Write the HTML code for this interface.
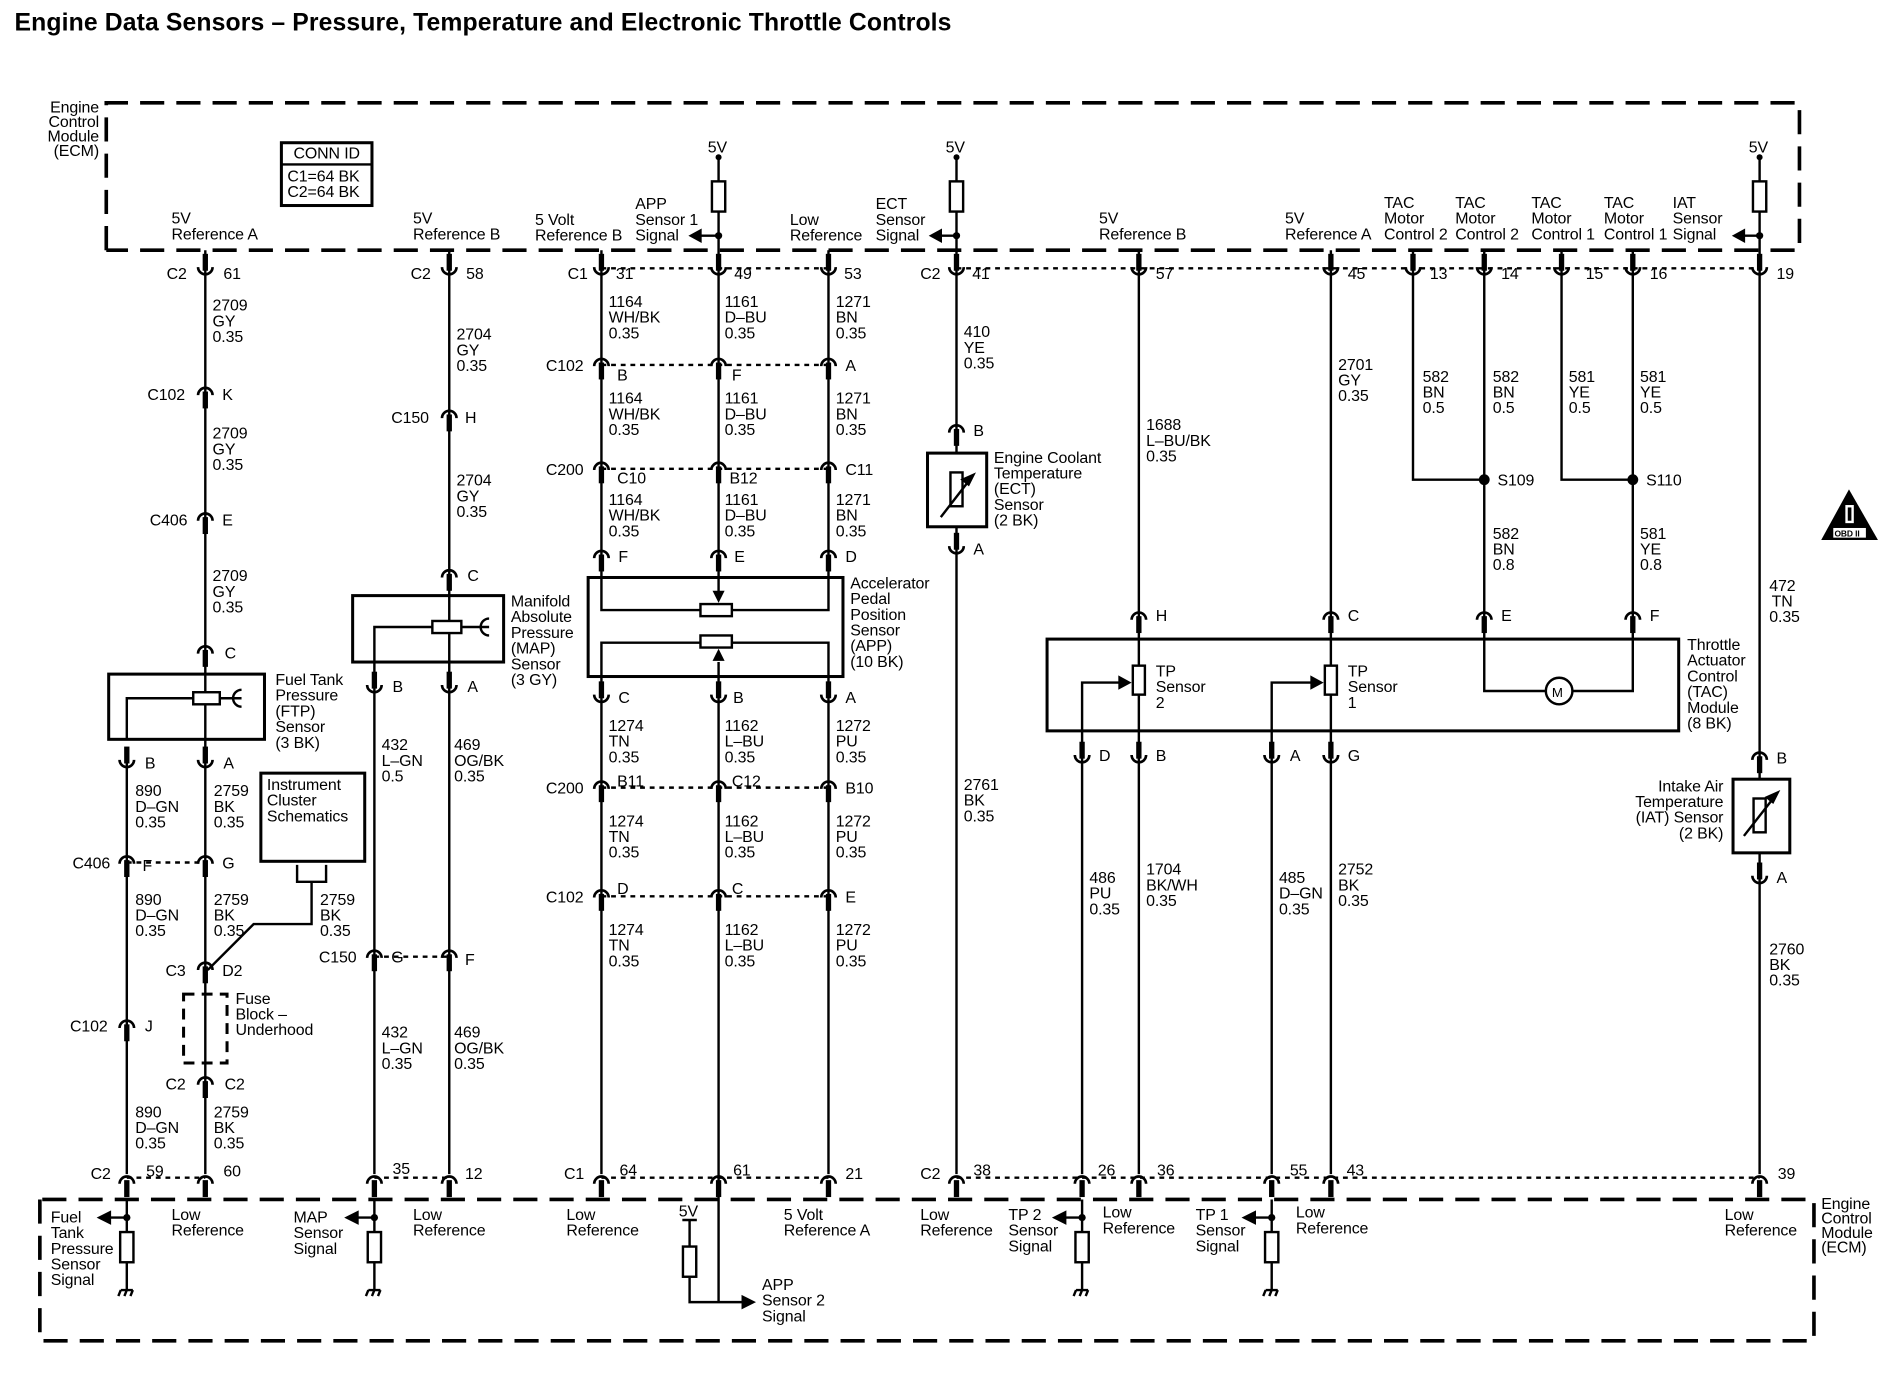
<!DOCTYPE html>
<html><head><meta charset="utf-8"><style>
html,body{margin:0;padding:0;background:#fff}
svg{display:block}
text{font-family:"Liberation Sans",sans-serif;font-size:13.2px;fill:#000;letter-spacing:-0.1px}
</style></head><body>
<svg width="1884" height="1376" viewBox="0 0 1560 1139" xmlns="http://www.w3.org/2000/svg">
<defs>
<g id="cu"><path d="M-6,-5 A6,6 0 0 0 6,-5" fill="none" stroke="#000" stroke-width="2.2"/><rect x="-2.2" y="-16" width="4.4" height="14"/></g>
<g id="ar"><path d="M-6,5 A6,6 0 0 1 6,5" fill="none" stroke="#000" stroke-width="2.2"/><rect x="-2.2" y="2" width="4.4" height="14"/></g>
<g id="res"><rect x="-5.5" y="0" width="11" height="25" fill="#fff" stroke="#000" stroke-width="2"/></g>
<g id="gnd"><path d="M-5,0 L5,0 M-5,0 l-2,5 M0,0 l-2,5 M5,0 l-2,5" stroke="#000" stroke-width="2" fill="none"/></g>
</defs>
<text x="12" y="25" style="font-size:20.5px;font-weight:bold;letter-spacing:0.1px">Engine Data Sensors – Pressure, Temperature and Electronic Throttle Controls</text>

<g fill="none" stroke="#000" stroke-width="3" stroke-dasharray="20 10">
<path d="M88,207 L88,85 L1490,85 L1490,207 L88,207"/>
<path d="M33,993 L33,1110 L1502,1110 L1502,993 L33,993"/>
</g>
<text text-anchor="end"><tspan x="82" y="93">Engine</tspan><tspan x="82" y="105">Control</tspan><tspan x="82" y="117">Module</tspan><tspan x="82" y="129">(ECM)</tspan></text>
<text><tspan x="1508" y="1001">Engine</tspan><tspan x="1508" y="1013">Control</tspan><tspan x="1508" y="1025">Module</tspan><tspan x="1508" y="1037">(ECM)</tspan></text>
<rect x="233" y="118" width="75" height="52" fill="none" stroke="#000" stroke-width="2.5"/>
<line x1="233" y1="136" x2="308" y2="136" stroke="#000" stroke-width="2"/>
<text x="243" y="131">CONN ID</text><text x="238" y="150">C1=64 BK</text><text x="238" y="163">C2=64 BK</text>

<g stroke="#000" stroke-width="2" fill="none">
<path d="M170,207V972 M105,630V972 M310,568V972 M372,207V972"/>
<path d="M498,207V478 M498,560V972 M686,207V478 M686,560V972 M595,130V478 M595,560V1078"/>
<path d="M792,130V375 M792,436V972 M943,207V551 M943,575V972 M1102,207V551 M1102,575V972"/>
<path d="M896,620V972 M896,620V565H930 M1053,620V972 M1053,620V565H1088"/>
<path d="M1170,207V397H1229 M1229,207V572H1352V207 M1293,207V397H1352"/>
<path d="M1457,130V645 M1457,706V972"/>
<path d="M258,730V765L210,765L172,803"/>
<path d="M246,716V730H270V716"/>
<path d="M580,195H595 M779,195H792 M1444,195H1457"/>
<path d="M91,1008H105 M296,1008H310 M882,1008H896 M1039,1008H1053"/>
<path d="M105,993V1020 M105,1045V1068 M310,993V1020 M310,1045V1068 M896,993V1020 M896,1045V1068 M1053,993V1020 M1053,1045V1068"/>
<path d="M571,1010V1032 M571,1058V1078H615 M565,1010H577"/>
</g>
<g stroke="#000" stroke-width="2" stroke-dasharray="4 4">
<path d="M498,222H686 M792,222H1457 M498,302H686 M498,388H686 M498,652H686 M498,742H686 M105,714H170 M310,792H372"/>
<path d="M105,975H170 M310,975H372 M498,975H686 M792,975H1457"/>
</g>
<g fill="#000">
<path d="M570,195l11,-6v12z M769,195l11,-6v12z M1434,195l11,-6v12z"/>
<path d="M80,1008l12,-6v12z M285,1008l12,-6v12z M871,1008l12,-6v12z M1028,1008l12,-6v12z"/>
<path d="M626,1078l-12,-6v12z"/>
<path d="M937,565l-11,-6v12z M1096,565l-11,-6v12z"/>
<circle cx="595" cy="195" r="3"/><circle cx="792" cy="195" r="3"/><circle cx="1457" cy="195" r="3"/>
<circle cx="105" cy="1008" r="3"/><circle cx="310" cy="1008" r="3"/><circle cx="896" cy="1008" r="3"/><circle cx="1053" cy="1008" r="3"/>
<circle cx="1229" cy="397" r="4.5"/><circle cx="1352" cy="397" r="4.5"/>
<circle cx="595" cy="130" r="2.5"/><circle cx="792" cy="130" r="2.5"/><circle cx="1457" cy="130" r="2.5"/>
</g>
<use href="#res" transform="translate(595,150)"/><use href="#res" transform="translate(792,150)"/><use href="#res" transform="translate(1457,150)"/>
<use href="#res" transform="translate(105,1020)"/><use href="#res" transform="translate(310,1020)"/><use href="#res" transform="translate(896,1020)"/><use href="#res" transform="translate(1053,1020)"/><use href="#res" transform="translate(571,1032)"/>
<use href="#gnd" transform="translate(105,1068)"/><use href="#gnd" transform="translate(310,1068)"/><use href="#gnd" transform="translate(896,1068)"/><use href="#gnd" transform="translate(1053,1068)"/>
<text x="586" y="126">5V</text><text x="783" y="126">5V</text><text x="1448" y="126">5V</text><text x="562" y="1007">5V</text>

<g>
<use href="#cu" transform="translate(170,226)"/><use href="#cu" transform="translate(372,226)"/>
<use href="#cu" transform="translate(498,226)"/><use href="#cu" transform="translate(595,226)"/><use href="#cu" transform="translate(686,226)"/>
<use href="#cu" transform="translate(792,226)"/><use href="#cu" transform="translate(943,226)"/><use href="#cu" transform="translate(1102,226)"/>
<use href="#cu" transform="translate(1170,226)"/><use href="#cu" transform="translate(1229,226)"/><use href="#cu" transform="translate(1293,226)"/><use href="#cu" transform="translate(1352,226)"/><use href="#cu" transform="translate(1457,226)"/>
</g>
<g>
<use href="#ar" transform="translate(105,975)"/><use href="#ar" transform="translate(170,975)"/><use href="#ar" transform="translate(310,975)"/><use href="#ar" transform="translate(372,975)"/>
<use href="#ar" transform="translate(498,975)"/><use href="#ar" transform="translate(595,975)"/><use href="#ar" transform="translate(686,975)"/>
<use href="#ar" transform="translate(792,975)"/><use href="#ar" transform="translate(896,975)"/><use href="#ar" transform="translate(943,975)"/><use href="#ar" transform="translate(1053,975)"/><use href="#ar" transform="translate(1102,975)"/><use href="#ar" transform="translate(1457,975)"/>
</g>
<g>
<use href="#ar" transform="translate(170,322)"/><use href="#ar" transform="translate(170,426)"/><use href="#ar" transform="translate(170,536)"/>
<use href="#ar" transform="translate(372,341)"/><use href="#ar" transform="translate(372,473)"/>
<use href="#ar" transform="translate(498,298)"/><use href="#ar" transform="translate(595,298)"/><use href="#ar" transform="translate(686,298)"/>
<use href="#ar" transform="translate(498,384)"/><use href="#ar" transform="translate(595,384)"/><use href="#ar" transform="translate(686,384)"/>
<use href="#ar" transform="translate(498,457)"/><use href="#ar" transform="translate(595,457)"/><use href="#ar" transform="translate(686,457)"/>
<use href="#ar" transform="translate(498,648)"/><use href="#ar" transform="translate(595,648)"/><use href="#ar" transform="translate(686,648)"/>
<use href="#ar" transform="translate(498,738)"/><use href="#ar" transform="translate(595,738)"/><use href="#ar" transform="translate(686,738)"/>
<use href="#ar" transform="translate(792,353)"/><use href="#ar" transform="translate(943,508)"/><use href="#ar" transform="translate(1102,508)"/>
<use href="#ar" transform="translate(1229,508)"/><use href="#ar" transform="translate(1352,508)"/><use href="#ar" transform="translate(1457,624)"/>
<use href="#ar" transform="translate(105,710)"/><use href="#ar" transform="translate(170,710)"/>
<use href="#ar" transform="translate(170,798)"/><use href="#ar" transform="translate(105,846)"/><use href="#ar" transform="translate(170,893)"/>
<use href="#ar" transform="translate(310,788)"/><use href="#ar" transform="translate(372,788)"/>
<use href="#cu" transform="translate(105,634)"/><use href="#cu" transform="translate(170,634)"/>
<use href="#cu" transform="translate(310,572)"/><use href="#cu" transform="translate(372,572)"/>
<use href="#cu" transform="translate(498,580)"/><use href="#cu" transform="translate(595,580)"/><use href="#cu" transform="translate(686,580)"/>
<use href="#cu" transform="translate(792,457)"/><use href="#cu" transform="translate(1457,730)"/>
<use href="#cu" transform="translate(896,630)"/><use href="#cu" transform="translate(943,630)"/><use href="#cu" transform="translate(1053,630)"/><use href="#cu" transform="translate(1102,630)"/>
</g>

<g fill="none" stroke="#000" stroke-width="2.5">
<rect x="90" y="558" width="129" height="54"/>
<rect x="292" y="493" width="125" height="55"/>
<rect x="487" y="478" width="211" height="82"/>
<rect x="768" y="375" width="49" height="61"/>
<rect x="867" y="529" width="523" height="76"/>
<rect x="1435" y="645" width="47" height="61"/>
<rect x="216" y="640" width="86" height="73"/>
<rect x="152" y="823" width="36" height="57" stroke-dasharray="9 6"/>
</g>
<g fill="none" stroke="#000" stroke-width="2">
<path d="M105,612V578H160 M310,568V519H358"/>
<path d="M200,571 a7,7 0 0 0 0,14 M405,512 a7,7 0 0 0 0,14"/>
<path d="M498,478V505H580 M606,505H686V478 M498,560V532H580 M606,532H686V560"/>
</g>
<g fill="#fff" stroke="#000" stroke-width="2">
<rect x="160" y="573" width="22" height="10"/>
<rect x="358" y="514" width="24" height="10"/>
<rect x="580" y="500" width="26" height="10"/>
<rect x="580" y="526" width="26" height="10"/>
<rect x="787" y="391" width="10" height="28"/>
<rect x="1452" y="661" width="10" height="28"/>
<rect x="938" y="551" width="10" height="24"/>
<rect x="1097" y="551" width="10" height="24"/>
<circle cx="1291" cy="572" r="11"/>
</g>
<path d="M182,578H200 M382,519H405" stroke="#000" stroke-width="2"/>
<g fill="#000"><path d="M595,499l-5,-10h10z M595,537l-5,10h10z"/></g>
<path d="M595,478V490 M595,560V548" stroke="#000" stroke-width="2"/>
<g stroke="#000" stroke-width="2" fill="#000">
<path d="M779,428L803,397" /><path d="M806,393l-9,4 5,4z"/>
<path d="M1444,692L1469,660"/><path d="M1472,656l-9,4 5,4z"/>
</g>
<text x="1285" y="577" style="font-size:11px">M</text>
<path d="M1531,405L1508,447H1555Z" fill="#000"/>
<rect x="1518" y="437" width="27" height="8" fill="#fff"/>
<text x="1519" y="444" style="font-size:7px;font-weight:bold">OBD II</text>
<rect x="1528" y="418" width="7" height="15" fill="#fff"/><rect x="1530" y="420" width="3" height="11" fill="#000"/>

<g>
<text><tspan x="142" y="185">5V</tspan><tspan x="142" y="198">Reference A</tspan></text>
<text><tspan x="342" y="185">5V</tspan><tspan x="342" y="198">Reference B</tspan></text>
<text><tspan x="443" y="186">5 Volt</tspan><tspan x="443" y="199">Reference B</tspan></text>
<text><tspan x="526" y="173">APP</tspan><tspan x="526" y="186">Sensor 1</tspan><tspan x="526" y="199">Signal</tspan></text>
<text><tspan x="654" y="186">Low</tspan><tspan x="654" y="199">Reference</tspan></text>
<text><tspan x="725" y="173">ECT</tspan><tspan x="725" y="186">Sensor</tspan><tspan x="725" y="199">Signal</tspan></text>
<text><tspan x="910" y="185">5V</tspan><tspan x="910" y="198">Reference B</tspan></text>
<text><tspan x="1064" y="185">5V</tspan><tspan x="1064" y="198">Reference A</tspan></text>
<text><tspan x="1146" y="172">TAC</tspan><tspan x="1146" y="185">Motor</tspan><tspan x="1146" y="198">Control 2</tspan></text>
<text><tspan x="1205" y="172">TAC</tspan><tspan x="1205" y="185">Motor</tspan><tspan x="1205" y="198">Control 2</tspan></text>
<text><tspan x="1268" y="172">TAC</tspan><tspan x="1268" y="185">Motor</tspan><tspan x="1268" y="198">Control 1</tspan></text>
<text><tspan x="1328" y="172">TAC</tspan><tspan x="1328" y="185">Motor</tspan><tspan x="1328" y="198">Control 1</tspan></text>
<text><tspan x="1385" y="172">IAT</tspan><tspan x="1385" y="185">Sensor</tspan><tspan x="1385" y="198">Signal</tspan></text>

<text x="138" y="231">C2</text><text x="185" y="231">61</text>
<text x="340" y="231">C2</text><text x="386" y="231">58</text>
<text x="470" y="231">C1</text><text x="510" y="231">31</text><text x="608" y="231">49</text><text x="699" y="231">53</text>
<text x="762" y="231">C2</text><text x="805" y="231">41</text><text x="957" y="231">57</text><text x="1116" y="231">45</text>
<text x="1184" y="231">13</text><text x="1243" y="231">14</text><text x="1313" y="231">15</text><text x="1366" y="231">16</text><text x="1471" y="231">19</text>

<text x="75" y="976">C2</text><text x="121" y="974">59</text><text x="185" y="974">60</text><text x="325" y="972">35</text><text x="385" y="976">12</text>
<text x="467" y="976">C1</text><text x="513" y="973">64</text><text x="607" y="973">61</text><text x="700" y="976">21</text>
<text x="762" y="976">C2</text><text x="806" y="973">38</text><text x="909" y="973">26</text><text x="958" y="973">36</text><text x="1068" y="973">55</text><text x="1115" y="973">43</text><text x="1472" y="976">39</text>

<text><tspan x="176" y="257">2709</tspan><tspan x="176" y="270">GY</tspan><tspan x="176" y="283">0.35</tspan></text>
<text x="122" y="331">C102</text><text x="184" y="331">K</text>
<text><tspan x="176" y="363">2709</tspan><tspan x="176" y="376">GY</tspan><tspan x="176" y="389">0.35</tspan></text>
<text x="124" y="435">C406</text><text x="184" y="435">E</text>
<text><tspan x="176" y="481">2709</tspan><tspan x="176" y="494">GY</tspan><tspan x="176" y="507">0.35</tspan></text>
<text x="186" y="545">C</text>
<text><tspan x="228" y="567">Fuel Tank</tspan><tspan x="228" y="580">Pressure</tspan><tspan x="228" y="593">(FTP)</tspan><tspan x="228" y="606">Sensor</tspan><tspan x="228" y="619">(3 BK)</tspan></text>
<text x="120" y="636">B</text><text x="185" y="636">A</text>
<text><tspan x="112" y="659">890</tspan><tspan x="112" y="672">D–GN</tspan><tspan x="112" y="685">0.35</tspan></text>
<text><tspan x="177" y="659">2759</tspan><tspan x="177" y="672">BK</tspan><tspan x="177" y="685">0.35</tspan></text>
<text><tspan x="221" y="654">Instrument</tspan><tspan x="221" y="667">Cluster</tspan><tspan x="221" y="680">Schematics</tspan></text>
<text x="60" y="719">C406</text><text x="118" y="721">F</text><text x="184" y="719">G</text>
<text><tspan x="112" y="749">890</tspan><tspan x="112" y="762">D–GN</tspan><tspan x="112" y="775">0.35</tspan></text>
<text><tspan x="177" y="749">2759</tspan><tspan x="177" y="762">BK</tspan><tspan x="177" y="775">0.35</tspan></text>
<text><tspan x="265" y="749">2759</tspan><tspan x="265" y="762">BK</tspan><tspan x="265" y="775">0.35</tspan></text>
<text x="137" y="808">C3</text><text x="184" y="808">D2</text>
<text><tspan x="195" y="831">Fuse</tspan><tspan x="195" y="844">Block –</tspan><tspan x="195" y="857">Underhood</tspan></text>
<text x="58" y="854">C102</text><text x="120" y="854">J</text>
<text x="137" y="902">C2</text><text x="186" y="902">C2</text>
<text><tspan x="112" y="925">890</tspan><tspan x="112" y="938">D–GN</tspan><tspan x="112" y="951">0.35</tspan></text>
<text><tspan x="177" y="925">2759</tspan><tspan x="177" y="938">BK</tspan><tspan x="177" y="951">0.35</tspan></text>

<text><tspan x="378" y="281">2704</tspan><tspan x="378" y="294">GY</tspan><tspan x="378" y="307">0.35</tspan></text>
<text x="324" y="350">C150</text><text x="385" y="350">H</text>
<text><tspan x="378" y="402">2704</tspan><tspan x="378" y="415">GY</tspan><tspan x="378" y="428">0.35</tspan></text>
<text x="387" y="481">C</text>
<text><tspan x="423" y="502">Manifold</tspan><tspan x="423" y="515">Absolute</tspan><tspan x="423" y="528">Pressure</tspan><tspan x="423" y="541">(MAP)</tspan><tspan x="423" y="554">Sensor</tspan><tspan x="423" y="567">(3 GY)</tspan></text>
<text x="325" y="573">B</text><text x="387" y="573">A</text>
<text><tspan x="316" y="621">432</tspan><tspan x="316" y="634">L–GN</tspan><tspan x="316" y="647">0.5</tspan></text>
<text><tspan x="376" y="621">469</tspan><tspan x="376" y="634">OG/BK</tspan><tspan x="376" y="647">0.35</tspan></text>
<text x="264" y="797">C150</text><text x="324" y="797">G</text><text x="385" y="799">F</text>
<text><tspan x="316" y="859">432</tspan><tspan x="316" y="872">L–GN</tspan><tspan x="316" y="885">0.35</tspan></text>
<text><tspan x="376" y="859">469</tspan><tspan x="376" y="872">OG/BK</tspan><tspan x="376" y="885">0.35</tspan></text>

<text><tspan x="504" y="254">1164</tspan><tspan x="504" y="267">WH/BK</tspan><tspan x="504" y="280">0.35</tspan></text>
<text><tspan x="600" y="254">1161</tspan><tspan x="600" y="267">D–BU</tspan><tspan x="600" y="280">0.35</tspan></text>
<text><tspan x="692" y="254">1271</tspan><tspan x="692" y="267">BN</tspan><tspan x="692" y="280">0.35</tspan></text>
<text x="452" y="307">C102</text><text x="511" y="315">B</text><text x="606" y="315">F</text><text x="700" y="307">A</text>
<text><tspan x="504" y="334">1164</tspan><tspan x="504" y="347">WH/BK</tspan><tspan x="504" y="360">0.35</tspan></text>
<text><tspan x="600" y="334">1161</tspan><tspan x="600" y="347">D–BU</tspan><tspan x="600" y="360">0.35</tspan></text>
<text><tspan x="692" y="334">1271</tspan><tspan x="692" y="347">BN</tspan><tspan x="692" y="360">0.35</tspan></text>
<text x="452" y="393">C200</text><text x="511" y="400">C10</text><text x="604" y="400">B12</text><text x="700" y="393">C11</text>
<text><tspan x="504" y="418">1164</tspan><tspan x="504" y="431">WH/BK</tspan><tspan x="504" y="444">0.35</tspan></text>
<text><tspan x="600" y="418">1161</tspan><tspan x="600" y="431">D–BU</tspan><tspan x="600" y="444">0.35</tspan></text>
<text><tspan x="692" y="418">1271</tspan><tspan x="692" y="431">BN</tspan><tspan x="692" y="444">0.35</tspan></text>
<text x="512" y="465">F</text><text x="608" y="465">E</text><text x="700" y="465">D</text>
<text><tspan x="704" y="487">Accelerator</tspan><tspan x="704" y="500">Pedal</tspan><tspan x="704" y="513">Position</tspan><tspan x="704" y="526">Sensor</tspan><tspan x="704" y="539">(APP)</tspan><tspan x="704" y="552">(10 BK)</tspan></text>
<text x="512" y="582">C</text><text x="607" y="582">B</text><text x="700" y="582">A</text>
<text><tspan x="504" y="605">1274</tspan><tspan x="504" y="618">TN</tspan><tspan x="504" y="631">0.35</tspan></text>
<text><tspan x="600" y="605">1162</tspan><tspan x="600" y="618">L–BU</tspan><tspan x="600" y="631">0.35</tspan></text>
<text><tspan x="692" y="605">1272</tspan><tspan x="692" y="618">PU</tspan><tspan x="692" y="631">0.35</tspan></text>
<text x="452" y="657">C200</text><text x="511" y="651">B11</text><text x="606" y="651">C12</text><text x="700" y="657">B10</text>
<text><tspan x="504" y="684">1274</tspan><tspan x="504" y="697">TN</tspan><tspan x="504" y="710">0.35</tspan></text>
<text><tspan x="600" y="684">1162</tspan><tspan x="600" y="697">L–BU</tspan><tspan x="600" y="710">0.35</tspan></text>
<text><tspan x="692" y="684">1272</tspan><tspan x="692" y="697">PU</tspan><tspan x="692" y="710">0.35</tspan></text>
<text x="452" y="747">C102</text><text x="511" y="740">D</text><text x="606" y="740">C</text><text x="700" y="747">E</text>
<text><tspan x="504" y="774">1274</tspan><tspan x="504" y="787">TN</tspan><tspan x="504" y="800">0.35</tspan></text>
<text><tspan x="600" y="774">1162</tspan><tspan x="600" y="787">L–BU</tspan><tspan x="600" y="800">0.35</tspan></text>
<text><tspan x="692" y="774">1272</tspan><tspan x="692" y="787">PU</tspan><tspan x="692" y="800">0.35</tspan></text>

<text><tspan x="798" y="279">410</tspan><tspan x="798" y="292">YE</tspan><tspan x="798" y="305">0.35</tspan></text>
<text x="806" y="361">B</text>
<text><tspan x="823" y="383">Engine Coolant</tspan><tspan x="823" y="396">Temperature</tspan><tspan x="823" y="409">(ECT)</tspan><tspan x="823" y="422">Sensor</tspan><tspan x="823" y="435">(2 BK)</tspan></text>
<text x="806" y="459">A</text>
<text><tspan x="798" y="654">2761</tspan><tspan x="798" y="667">BK</tspan><tspan x="798" y="680">0.35</tspan></text>

<text><tspan x="949" y="356">1688</tspan><tspan x="949" y="369">L–BU/BK</tspan><tspan x="949" y="382">0.35</tspan></text>
<text><tspan x="1108" y="306">2701</tspan><tspan x="1108" y="319">GY</tspan><tspan x="1108" y="332">0.35</tspan></text>
<text x="957" y="514">H</text><text x="1116" y="514">C</text><text x="1243" y="514">E</text><text x="1366" y="514">F</text>
<text><tspan x="957" y="560">TP</tspan><tspan x="957" y="573">Sensor</tspan><tspan x="957" y="586">2</tspan></text>
<text><tspan x="1116" y="560">TP</tspan><tspan x="1116" y="573">Sensor</tspan><tspan x="1116" y="586">1</tspan></text>
<text><tspan x="1397" y="538">Throttle</tspan><tspan x="1397" y="551">Actuator</tspan><tspan x="1397" y="564">Control</tspan><tspan x="1397" y="577">(TAC)</tspan><tspan x="1397" y="590">Module</tspan><tspan x="1397" y="603">(8 BK)</tspan></text>
<text x="910" y="630">D</text><text x="957" y="630">B</text><text x="1068" y="630">A</text><text x="1116" y="630">G</text>
<text><tspan x="902" y="731">486</tspan><tspan x="902" y="744">PU</tspan><tspan x="902" y="757">0.35</tspan></text>
<text><tspan x="949" y="724">1704</tspan><tspan x="949" y="737">BK/WH</tspan><tspan x="949" y="750">0.35</tspan></text>
<text><tspan x="1059" y="731">485</tspan><tspan x="1059" y="744">D–GN</tspan><tspan x="1059" y="757">0.35</tspan></text>
<text><tspan x="1108" y="724">2752</tspan><tspan x="1108" y="737">BK</tspan><tspan x="1108" y="750">0.35</tspan></text>

<text><tspan x="1178" y="316">582</tspan><tspan x="1178" y="329">BN</tspan><tspan x="1178" y="342">0.5</tspan></text>
<text><tspan x="1236" y="316">582</tspan><tspan x="1236" y="329">BN</tspan><tspan x="1236" y="342">0.5</tspan></text>
<text><tspan x="1299" y="316">581</tspan><tspan x="1299" y="329">YE</tspan><tspan x="1299" y="342">0.5</tspan></text>
<text><tspan x="1358" y="316">581</tspan><tspan x="1358" y="329">YE</tspan><tspan x="1358" y="342">0.5</tspan></text>
<text x="1240" y="402">S109</text><text x="1363" y="402">S110</text>
<text><tspan x="1236" y="446">582</tspan><tspan x="1236" y="459">BN</tspan><tspan x="1236" y="472">0.8</tspan></text>
<text><tspan x="1358" y="446">581</tspan><tspan x="1358" y="459">YE</tspan><tspan x="1358" y="472">0.8</tspan></text>

<text><tspan x="1465" y="489">472</tspan><tspan x="1467" y="502">TN</tspan><tspan x="1465" y="515">0.35</tspan></text>
<text x="1471" y="632">B</text>
<text text-anchor="end"><tspan x="1427" y="655">Intake Air</tspan><tspan x="1427" y="668">Temperature</tspan><tspan x="1427" y="681">(IAT) Sensor</tspan><tspan x="1427" y="694">(2 BK)</tspan></text>
<text x="1471" y="731">A</text>
<text><tspan x="1465" y="790">2760</tspan><tspan x="1465" y="803">BK</tspan><tspan x="1465" y="816">0.35</tspan></text>

<text><tspan x="42" y="1012">Fuel</tspan><tspan x="42" y="1025">Tank</tspan><tspan x="42" y="1038">Pressure</tspan><tspan x="42" y="1051">Sensor</tspan><tspan x="42" y="1064">Signal</tspan></text>
<text><tspan x="142" y="1010">Low</tspan><tspan x="142" y="1023">Reference</tspan></text>
<text><tspan x="243" y="1012">MAP</tspan><tspan x="243" y="1025">Sensor</tspan><tspan x="243" y="1038">Signal</tspan></text>
<text><tspan x="342" y="1010">Low</tspan><tspan x="342" y="1023">Reference</tspan></text>
<text><tspan x="469" y="1010">Low</tspan><tspan x="469" y="1023">Reference</tspan></text>
<text><tspan x="631" y="1068">APP</tspan><tspan x="631" y="1081">Sensor 2</tspan><tspan x="631" y="1094">Signal</tspan></text>
<text><tspan x="649" y="1010">5 Volt</tspan><tspan x="649" y="1023">Reference A</tspan></text>
<text><tspan x="762" y="1010">Low</tspan><tspan x="762" y="1023">Reference</tspan></text>
<text><tspan x="835" y="1010">TP 2</tspan><tspan x="835" y="1023">Sensor</tspan><tspan x="835" y="1036">Signal</tspan></text>
<text><tspan x="913" y="1008">Low</tspan><tspan x="913" y="1021">Reference</tspan></text>
<text><tspan x="990" y="1010">TP 1</tspan><tspan x="990" y="1023">Sensor</tspan><tspan x="990" y="1036">Signal</tspan></text>
<text><tspan x="1073" y="1008">Low</tspan><tspan x="1073" y="1021">Reference</tspan></text>
<text><tspan x="1428" y="1010">Low</tspan><tspan x="1428" y="1023">Reference</tspan></text>
</g>
</svg>
</body></html>
